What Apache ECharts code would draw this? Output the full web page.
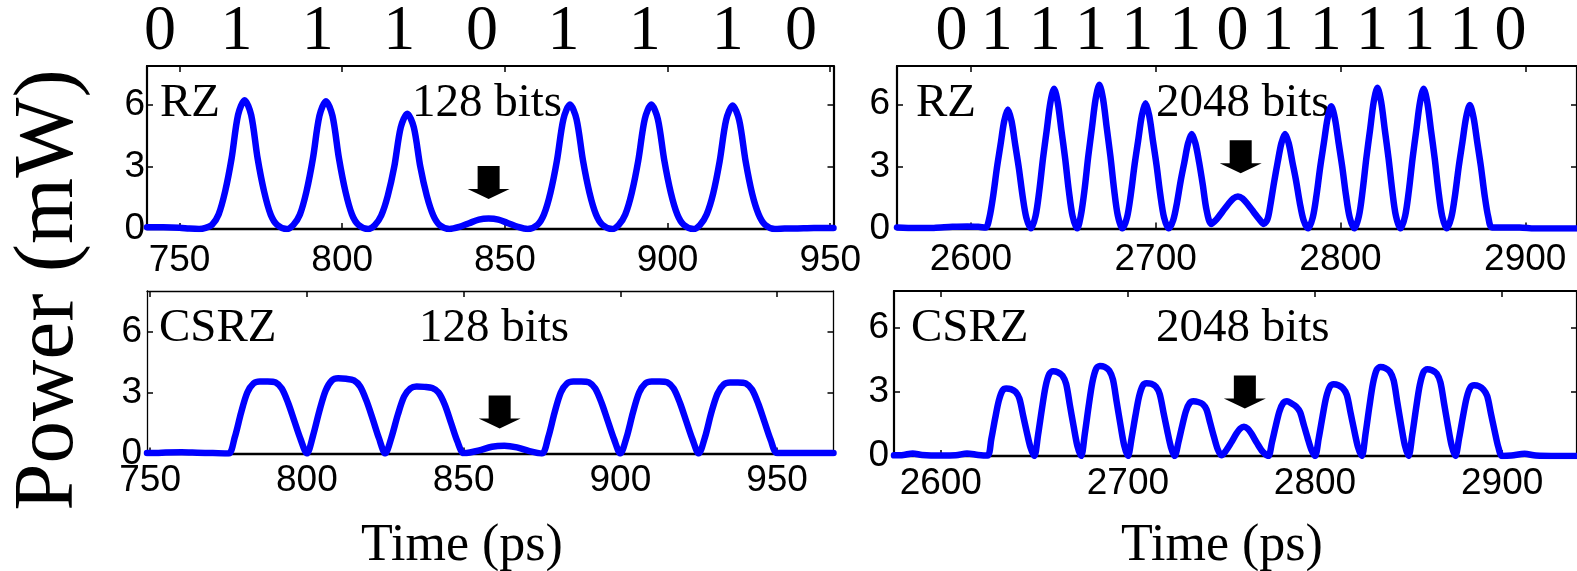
<!DOCTYPE html>
<html>
<head>
<meta charset="utf-8">
<script src="https://cdn.jsdelivr.net/npm/echarts@6/dist/echarts.min.js"></script>
<style>
  html, body { margin: 0; padding: 0; background: #fff; }
  #main { width: 1577px; height: 571px; }
</style>
</head>
<body>
<div id="main"></div>
<script>
// bit patterns written above the top panels, and where each digit sits on the time axis
var bits128 = ['0', '1', '1', '1', '0', '1', '1', '1', '0'];
var bitTimes128 = [744, 767.5, 792.5, 817.5, 843, 868, 893, 918.5, 941];
var bits2048 = ['0', '1', '1', '1', '1', '1', '0', '1', '1', '1', '1', '1', '0'];
var bitTimes2048 = [2589.5, 2614, 2640, 2665, 2690, 2716, 2741.5, 2766, 2792, 2817, 2842.5, 2867.5, 2892];

// tick values
var ticks128 = [750, 800, 850, 900, 950];
var ticks2048 = [2600, 2700, 2800, 2900];
var powerTicks = [0, 3, 6];

// [time ps, power mW]
var rz128 = [
  [740, 0.08], [745, 0.08], [750, 0.06], [753, 0.02], [756, 0], [758, 0.05],
  [760, 0.2], [762, 0.7], [764, 1.8], [766, 3.4], [768, 5.5], [770, 6.2], [772, 5.5], [774, 3.4], [776, 1.8], [778, 0.7], [780, 0.2], [783, 0],
  [785, 0.2], [787, 0.7], [789, 1.8], [791, 3.4], [793, 5.45], [795, 6.15], [797, 5.45], [799, 3.4], [801, 1.8], [803, 0.7], [805, 0.2], [808, 0],
  [810, 0.18], [812, 0.65], [814, 1.6], [816, 3.0], [818, 4.9], [820, 5.55], [822, 4.9], [824, 3.0], [826, 1.6], [828, 0.65], [830, 0.18], [833, 0],
  [836, 0.1], [839, 0.28], [842, 0.45], [845, 0.5], [848, 0.45], [851, 0.28], [854, 0.1], [857, 0],
  [860, 0.2], [862, 0.7], [864, 1.75], [866, 3.3], [868, 5.3], [870, 6.0], [872, 5.3], [874, 3.3], [876, 1.75], [878, 0.7], [880, 0.2], [883, 0],
  [885, 0.2], [887, 0.7], [889, 1.75], [891, 3.3], [893, 5.3], [895, 6.0], [897, 5.3], [899, 3.3], [901, 1.75], [903, 0.7], [905, 0.2], [908, 0],
  [910, 0.2], [912, 0.7], [914, 1.7], [916, 3.25], [918, 5.25], [920, 5.95], [922, 5.25], [924, 3.25], [926, 1.7], [928, 0.7], [930, 0.2], [933, 0],
  [936, 0.02], [940, 0.03], [945, 0.05], [951, 0.05]
];

var csrz128 = [
  [749, 0.02], [752, 0.02], [755, 0.05], [760, 0.06], [765, 0.04], [770, 0.02], [775, 0],
  [777, 0.8], [779, 2.0], [781, 3.0], [783, 3.45], [785, 3.55], [787.5, 3.55], [790, 3.5], [792, 3.2], [794, 2.5], [796, 1.6], [798, 0.7], [800, 0],
  [802, 0.9], [804, 2.1], [806, 3.1], [808, 3.6], [810, 3.7], [812.5, 3.68], [815, 3.6], [817, 3.3], [819, 2.6], [821, 1.7], [823, 0.75], [825, 0],
  [827, 0.8], [829, 1.9], [831, 2.8], [833, 3.2], [835, 3.3], [837.5, 3.28], [840, 3.22], [842, 3.0], [844, 2.4], [846, 1.5], [848, 0.6], [850, 0.02],
  [852, 0.05], [855, 0.15], [859, 0.33], [863, 0.38], [867, 0.3], [871, 0.12], [875, 0],
  [877, 0.8], [879, 2.0], [881, 3.0], [883, 3.45], [885, 3.55], [887.5, 3.55], [890, 3.5], [892, 3.2], [894, 2.5], [896, 1.6], [898, 0.7], [900, 0],
  [902, 0.8], [904, 2.0], [906, 3.0], [908, 3.45], [910, 3.55], [912.5, 3.55], [915, 3.5], [917, 3.2], [919, 2.5], [921, 1.6], [923, 0.7], [925, 0],
  [927, 0.8], [929, 2.0], [931, 2.95], [933, 3.4], [935, 3.5], [937.5, 3.5], [940, 3.45], [942, 3.15], [944, 2.45], [946, 1.55], [948, 0.65], [950, 0.02],
  [955, 0.02], [960, 0.02], [968, 0.02]
];

var rz2048 = [
  [2560, 0.05], [2570, 0.02], [2580, 0.03], [2590, 0.08], [2598, 0.1], [2604, 0.08], [2608, 0.05],
  [2610, 0.52], [2612, 1.55], [2614, 2.88], [2616, 4.03], [2618, 5.18], [2620, 5.75], [2622, 5.18], [2624, 4.03], [2626, 2.88], [2628, 1.55], [2630, 0.52], [2632.5, 0],
  [2635, 0.61], [2637, 1.82], [2639, 3.38], [2641, 4.73], [2643, 6.08], [2645, 6.75], [2647, 6.08], [2649, 4.73], [2651, 3.38], [2653, 1.82], [2655, 0.61], [2657.5, 0],
  [2659.5, 0.63], [2661.5, 1.88], [2663.5, 3.48], [2665.5, 4.87], [2667.5, 6.26], [2669.5, 6.95], [2671.5, 6.26], [2673.5, 4.87], [2675.5, 3.48], [2677.5, 1.88], [2679.5, 0.63], [2682, 0],
  [2684.5, 0.54], [2686.5, 1.63], [2688.5, 3.03], [2690.5, 4.24], [2692.5, 5.45], [2694.5, 6.05], [2696.5, 5.45], [2698.5, 4.24], [2700.5, 3.03], [2702.5, 1.63], [2704.5, 0.54], [2707, 0],
  [2709.5, 0.41], [2711.5, 1.23], [2713.5, 2.29], [2715.5, 3.2], [2717.5, 4.11], [2719.5, 4.57], [2721.5, 4.11], [2723.5, 3.2], [2725.5, 2.1], [2727.5, 0.9], [2730, 0.22],
  [2733, 0.45], [2736, 0.8], [2739, 1.15], [2742, 1.45], [2744.5, 1.55], [2747, 1.45], [2750, 1.15], [2753, 0.8], [2756, 0.45], [2758.5, 0.22],
  [2760.5, 0.45], [2762, 1.1], [2764, 2.2], [2766, 3.2], [2768, 4.11], [2770, 4.57], [2772, 4.11], [2774, 3.2], [2776, 2.29], [2778, 1.23], [2780, 0.41], [2782.5, 0],
  [2785, 0.53], [2787, 1.59], [2789, 2.95], [2791, 4.13], [2793, 5.31], [2795, 5.9], [2797, 5.31], [2799, 4.13], [2801, 2.95], [2803, 1.59], [2805, 0.53], [2807.5, 0],
  [2810, 0.61], [2812, 1.84], [2814, 3.4], [2816, 4.76], [2818, 6.12], [2820, 6.8], [2822, 6.12], [2824, 4.76], [2826, 3.4], [2828, 1.84], [2830, 0.61], [2832.5, 0],
  [2835, 0.61], [2837, 1.82], [2839, 3.38], [2841, 4.73], [2843, 6.08], [2845, 6.75], [2847, 6.08], [2849, 4.73], [2851, 3.38], [2853, 1.82], [2855, 0.61], [2857.5, 0],
  [2860, 0.54], [2862, 1.61], [2864, 2.99], [2866, 4.18], [2868, 5.37], [2870, 5.97], [2872, 5.37], [2874, 4.18], [2876, 2.99], [2878, 1.61], [2880, 0.54], [2882, 0.05],
  [2890, 0.05], [2897, 0.05], [2905, 0], [2915, 0], [2930, 0]
];

var csrz2048 = [
  [2575, 0.03], [2580, 0.05], [2585, 0.12], [2590, 0.05], [2600, 0.02], [2608, 0.03], [2614, 0.12], [2620, 0.05], [2625, 0.02],
  [2627, 0.79], [2629, 1.73], [2631, 2.58], [2633, 3.06], [2635, 3.15], [2637.5, 3.12], [2640, 2.99], [2642, 2.68], [2644, 1.89], [2646, 1.1], [2648, 0.38], [2650, 0],
  [2652, 0.99], [2654, 2.17], [2656, 3.24], [2658, 3.83], [2660, 3.95], [2662.5, 3.91], [2665, 3.75], [2667, 3.36], [2669, 2.37], [2671, 1.38], [2673, 0.47], [2675, 0],
  [2677, 1.05], [2679, 2.31], [2681, 3.44], [2683, 4.07], [2685, 4.2], [2687.5, 4.16], [2690, 3.99], [2692, 3.57], [2694, 2.52], [2696, 1.47], [2698, 0.5], [2700, 0],
  [2702, 0.85], [2704, 1.87], [2706, 2.79], [2708, 3.3], [2710, 3.4], [2712.5, 3.37], [2715, 3.23], [2717, 2.89], [2719, 2.04], [2721, 1.19], [2723, 0.41], [2725, 0],
  [2727, 0.64], [2729, 1.4], [2731, 2.09], [2733, 2.47], [2735, 2.55], [2737.5, 2.52], [2740, 2.42], [2742, 2.17], [2744, 1.53], [2746, 0.89], [2748, 0.31], [2750, 0.03],
  [2752, 0.2], [2755, 0.6], [2758, 1.05], [2760, 1.28], [2762, 1.37], [2764, 1.28], [2766, 1.05], [2769, 0.6], [2772, 0.2], [2775, 0],
  [2777, 0.64], [2779, 1.4], [2781, 2.09], [2783, 2.47], [2785, 2.55], [2787.5, 2.45], [2790, 2.3], [2792, 2.05], [2794, 1.45], [2796, 0.85], [2798, 0.3], [2800, 0],
  [2802, 0.84], [2804, 1.84], [2806, 2.75], [2808, 3.25], [2810, 3.35], [2812.5, 3.3], [2815, 3.15], [2817, 2.85], [2819, 2.01], [2821, 1.17], [2823, 0.4], [2825, 0],
  [2827, 1.04], [2829, 2.28], [2831, 3.4], [2833, 4.03], [2835, 4.15], [2837.5, 4.1], [2840, 3.94], [2842, 3.53], [2844, 2.49], [2846, 1.45], [2848, 0.5], [2850, 0],
  [2852, 1.01], [2854, 2.23], [2856, 3.32], [2858, 3.93], [2860, 4.05], [2862.5, 4.0], [2865, 3.85], [2867, 3.44], [2869, 2.43], [2871, 1.42], [2873, 0.49], [2875, 0],
  [2877, 0.83], [2879, 1.82], [2881, 2.71], [2883, 3.2], [2885, 3.3], [2887.5, 3.26], [2890, 3.1], [2892, 2.8], [2894, 1.98], [2896, 1.16], [2898, 0.4], [2900, 0],
  [2905, 0.02], [2912, 0.1], [2918, 0.02], [2930, 0], [2940, 0]
];

// arrow tips pointing at the missing ("0") bit
var arrowTip = [[845, 1.45], [2746, 2.67], [861.5, 1.23], [2762.5, 2.22]];

var chart = echarts.init(document.getElementById('main'), null, { renderer: 'canvas' });

var SERIF = "'Liberation Serif', 'Times New Roman', serif";
var SANS = "'Liberation Sans', Arial, sans-serif";
var ARROW = 'path://M-11,0 L11,0 L11,23 L21,23 L0,33 L-21,23 L-11,23 Z';

var panels = [
  { data: rz128, ticks: ticks128, bits: bits128, bitTimes: bitTimes128, min: 740, max: 951, ymax: 7.85,
    left: 147, top: 66, width: 686.5, height: 163, lw: 2.2, xm: 13, ym: 2 },
  { data: rz2048, ticks: ticks2048, bits: bits2048, bitTimes: bitTimes2048, min: 2560, max: 2928, ymax: 7.85,
    left: 897, top: 66, width: 683.5, height: 162.5, lw: 2.2, xm: 13, ym: 7 },
  { data: csrz128, ticks: ticks128, min: 749, max: 968, ymax: 8.0,
    left: 147, top: 291, width: 686.5, height: 162.5, lw: 1.3, xm: 9, ym: 5 },
  { data: csrz2048, ticks: ticks2048, min: 2575, max: 2940, ymax: 7.7,
    left: 894, top: 291, width: 689, height: 165, lw: 2.2, xm: 9, ym: 5 }
];

var option = {
  animation: false,
  backgroundColor: '#ffffff',
  grid: [], xAxis: [], yAxis: [], series: [], graphic: []
};

function plain(v) { return String(v); }

panels.forEach(function (p, i) {
  option.grid.push({ left: p.left, top: p.top, width: p.width, height: p.height, show: false });
  var tick = { show: true, inside: true, length: 6, lineStyle: { color: '#000', width: 1.5 } };
  var line = { show: true, onZero: false, lineStyle: { color: '#000', width: p.lw } };
  // bottom time axis
  option.xAxis.push({
    type: 'value', gridIndex: i, position: 'bottom', min: p.min, max: p.max,
    axisLine: { show: true, onZero: false, lineStyle: { color: '#000', width: 2.4 } },
    axisTick: Object.assign({}, tick, { customValues: p.ticks }),
    axisLabel: { customValues: p.ticks, margin: p.xm, color: '#000', fontFamily: SANS, fontSize: 37, formatter: plain },
    splitLine: { show: false }
  });
  // top frame (bit pattern on the upper panels)
  option.xAxis.push({
    type: 'value', gridIndex: i, position: 'top', min: p.min, max: p.max,
    axisLine: line,
    axisTick: Object.assign({}, tick, { customValues: p.ticks }),
    axisLabel: p.bits ? {
      customValues: p.bitTimes, margin: 34, color: '#000', fontFamily: SERIF, fontSize: 64,
      verticalAlign: 'middle',
      formatter: (function (bits, times) {
        return function (v) { return bits[times.indexOf(v)]; };
      })(p.bits, p.bitTimes)
    } : { show: false },
    splitLine: { show: false }
  });
  option.yAxis.push({
    type: 'value', gridIndex: i, position: 'left', min: 0, max: p.ymax,
    axisLine: line,
    axisTick: Object.assign({}, tick, { customValues: powerTicks }),
    axisLabel: { customValues: powerTicks, margin: p.ym, color: '#000', fontFamily: SANS, fontSize: 37, formatter: plain },
    splitLine: { show: false }
  });
  option.yAxis.push({
    type: 'value', gridIndex: i, position: 'right', min: 0, max: p.ymax,
    axisLine: line,
    axisTick: Object.assign({}, tick, { customValues: powerTicks }),
    axisLabel: { show: false },
    splitLine: { show: false }
  });
  option.series.push({
    type: 'line', xAxisIndex: 2 * i, yAxisIndex: 2 * i,
    data: p.data, showSymbol: false, smooth: 0.3, clip: true,
    lineStyle: { color: '#0000ff', width: 6.5, join: 'round', cap: 'round' },
    markPoint: {
      silent: true, symbol: ARROW, symbolSize: [42, 33], symbolOffset: [0, -16.5],
      itemStyle: { color: '#000' }, label: { show: false },
      data: [{ coord: arrowTip[i] }]
    }
  });
});

function txt(x, y, s, size) {
  return {
    type: 'text', x: x, y: y, silent: true,
    style: { text: s, fill: '#000', font: size + 'px ' + SERIF, textAlign: 'left', textVerticalAlign: 'middle' }
  };
}

option.graphic = [
  txt(160, 104, 'RZ', 47), txt(412, 104, '128 bits', 47),
  txt(916, 104, 'RZ', 47), txt(1156, 104, '2048 bits', 47),
  txt(159, 329, 'CSRZ', 47), txt(419, 329, '128 bits', 47),
  txt(911, 329, 'CSRZ', 47), txt(1156, 329, '2048 bits', 47),
  {
    type: 'text', x: 50, y: 290, rotation: Math.PI / 2, silent: true,
    style: { text: 'Power (mW)', fill: '#000', font: '85px ' + SERIF, textAlign: 'center', textVerticalAlign: 'middle' }
  },
  {
    type: 'text', x: 462, y: 546, silent: true,
    style: { text: 'Time (ps)', fill: '#000', font: '52px ' + SERIF, textAlign: 'center', textVerticalAlign: 'middle' }
  },
  {
    type: 'text', x: 1222, y: 546, silent: true,
    style: { text: 'Time (ps)', fill: '#000', font: '52px ' + SERIF, textAlign: 'center', textVerticalAlign: 'middle' }
  }
];

chart.setOption(option);
</script>
</body>
</html>
